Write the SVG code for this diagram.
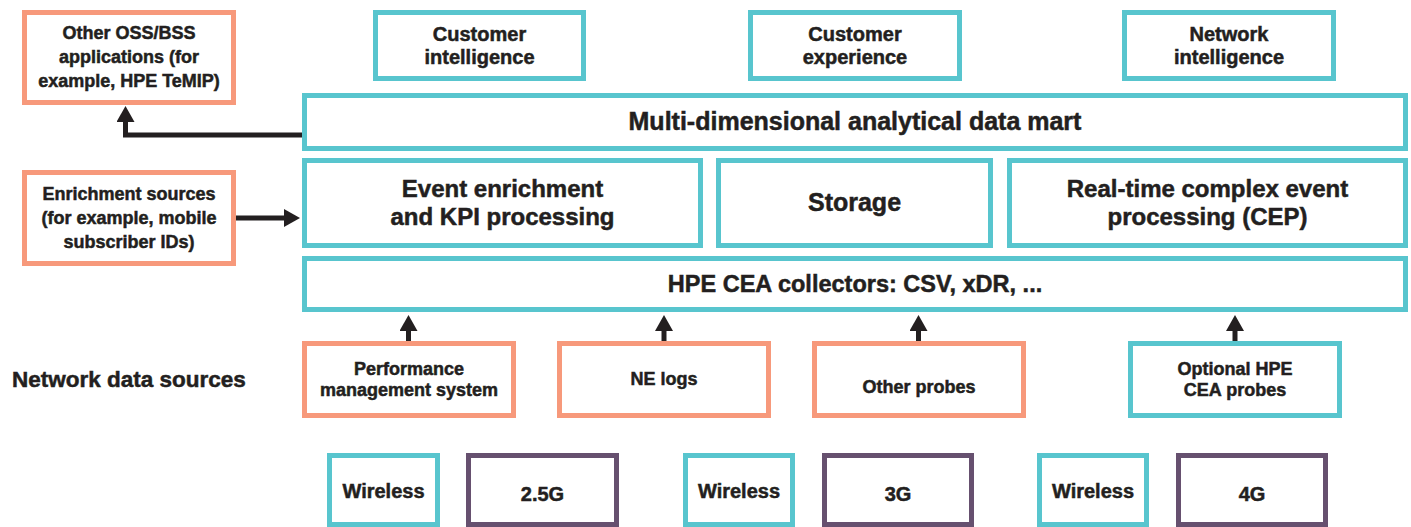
<svg xmlns="http://www.w3.org/2000/svg" width="1411" height="527" viewBox="0 0 1411 527">
<style>
  .box { fill: #ffffff; stroke-width: 5; }
  .teal { stroke: #58c5ce; }
  .salmon { stroke: #f7997b; }
  .purple { stroke: #66506f; }
  text { font-family: "Liberation Sans", Arial, sans-serif; font-weight: bold; fill: #231f20; stroke: #231f20; stroke-width: 0.5; text-anchor: middle; }
  .t18 { font-size: 18px; }
  .t20 { font-size: 20px; }
  .t24 { font-size: 24px; }
  .conn { fill: none; stroke: #231f20; stroke-width: 5; }
</style>
<defs>
  <marker id="arrow" viewBox="0 0 16 18" refX="0" refY="9" markerWidth="16" markerHeight="18" markerUnits="userSpaceOnUse" orient="auto">
    <path d="M0,0 L16,9 L0,18 z" fill="#231f20"/>
  </marker>
</defs>
<rect x="0" y="0" width="1411" height="527" fill="#ffffff"/>

<g id="oss">
  <rect class="box salmon" x="24.5" y="12.5" width="209" height="90"/>
  <text class="t18" x="129" y="39">Other OSS/BSS</text>
  <text class="t18" x="129" y="63">applications (for</text>
  <text class="t18" x="129" y="87">example, HPE TeMIP)</text>
</g>
<g id="enrichment">
  <rect class="box salmon" x="24.5" y="172.5" width="209" height="91"/>
  <text class="t18" x="129" y="200">Enrichment sources</text>
  <text class="t18" x="129" y="224">(for example, mobile</text>
  <text class="t18" x="129" y="248">subscriber IDs)</text>
</g>
<g id="customer-intelligence">
  <rect class="box teal" x="375.5" y="12.5" width="208" height="66"/>
  <text class="t20" x="479.5" y="41">Customer</text>
  <text class="t20" x="479.5" y="64">intelligence</text>
</g>
<g id="customer-experience">
  <rect class="box teal" x="750.5" y="12.5" width="209" height="66"/>
  <text class="t20" x="855" y="41">Customer</text>
  <text class="t20" x="855" y="64">experience</text>
</g>
<g id="network-intelligence">
  <rect class="box teal" x="1124.5" y="12.5" width="209" height="66"/>
  <text class="t20" x="1229" y="41">Network</text>
  <text class="t20" x="1229" y="64">intelligence</text>
</g>
<g id="data-mart">
  <rect class="box teal" x="304.5" y="95.5" width="1101" height="53"/>
  <text x="855" y="130" style="font-size:25px">Multi-dimensional analytical data mart</text>
</g>
<g id="event-enrichment">
  <rect class="box teal" x="304.5" y="160.5" width="396" height="85"/>
  <text class="t24" x="502.5" y="197">Event enrichment</text>
  <text class="t24" x="502.5" y="225">and KPI processing</text>
</g>
<g id="storage">
  <rect class="box teal" x="718.5" y="160.5" width="272" height="85"/>
  <text x="854.5" y="211" style="font-size:25px">Storage</text>
</g>
<g id="cep">
  <rect class="box teal" x="1009.5" y="160.5" width="396" height="85"/>
  <text class="t24" x="1207.5" y="197">Real-time complex event</text>
  <text class="t24" x="1207.5" y="225">processing (CEP)</text>
</g>
<g id="collectors">
  <rect class="box teal" x="304.5" y="258.5" width="1101" height="51"/>
  <text x="855" y="292" style="font-size:23.5px">HPE CEA collectors: CSV, xDR, ...</text>
</g>
<g id="network-data-sources-label">
  <text x="12" y="387" style="font-size:22.5px; text-anchor:start">Network data sources</text>
</g>
<g id="performance">
  <rect class="box salmon" x="304.5" y="343.5" width="209" height="72"/>
  <text class="t18" x="409" y="375">Performance</text>
  <text class="t18" x="409" y="396">management system</text>
</g>
<g id="ne-logs">
  <rect class="box salmon" x="559.5" y="343.5" width="209" height="72"/>
  <text class="t18" x="664" y="385">NE logs</text>
</g>
<g id="other-probes">
  <rect class="box salmon" x="814.5" y="343.5" width="209" height="72"/>
  <text class="t18" x="919" y="393">Other probes</text>
</g>
<g id="optional-probes">
  <rect class="box teal" x="1130.5" y="343.5" width="209" height="72"/>
  <text class="t18" x="1235" y="375">Optional HPE</text>
  <text class="t18" x="1235" y="396">CEA probes</text>
</g>
<g id="wireless-1">
  <rect class="box teal" x="329.5" y="455.5" width="108" height="69"/>
  <text class="t20" x="383.5" y="498">Wireless</text>
</g>
<g id="g25">
  <rect class="box purple" x="468.5" y="455.5" width="148" height="69"/>
  <text class="t20" x="542.5" y="501">2.5G</text>
</g>
<g id="wireless-2">
  <rect class="box teal" x="685.5" y="455.5" width="107" height="69"/>
  <text class="t20" x="739" y="498">Wireless</text>
</g>
<g id="g3">
  <rect class="box purple" x="824.5" y="455.5" width="147" height="69"/>
  <text class="t20" x="898" y="501">3G</text>
</g>
<g id="wireless-3">
  <rect class="box teal" x="1039.5" y="455.5" width="107" height="69"/>
  <text class="t20" x="1093" y="498">Wireless</text>
</g>
<g id="g4">
  <rect class="box purple" x="1178.5" y="455.5" width="147" height="69"/>
  <text class="t20" x="1252" y="501">4G</text>
</g>

<g id="connectors">
  <path class="conn" d="M302,135 H125.5 V122" marker-end="url(#arrow)"/>
  <path class="conn" d="M236,218 H284" marker-end="url(#arrow)"/>
  <path class="conn" d="M408.5,341 V331" marker-end="url(#arrow)"/>
  <path class="conn" d="M664,341 V331" marker-end="url(#arrow)"/>
  <path class="conn" d="M918.5,341 V331" marker-end="url(#arrow)"/>
  <path class="conn" d="M1235,341 V331" marker-end="url(#arrow)"/>
</g>
</svg>
